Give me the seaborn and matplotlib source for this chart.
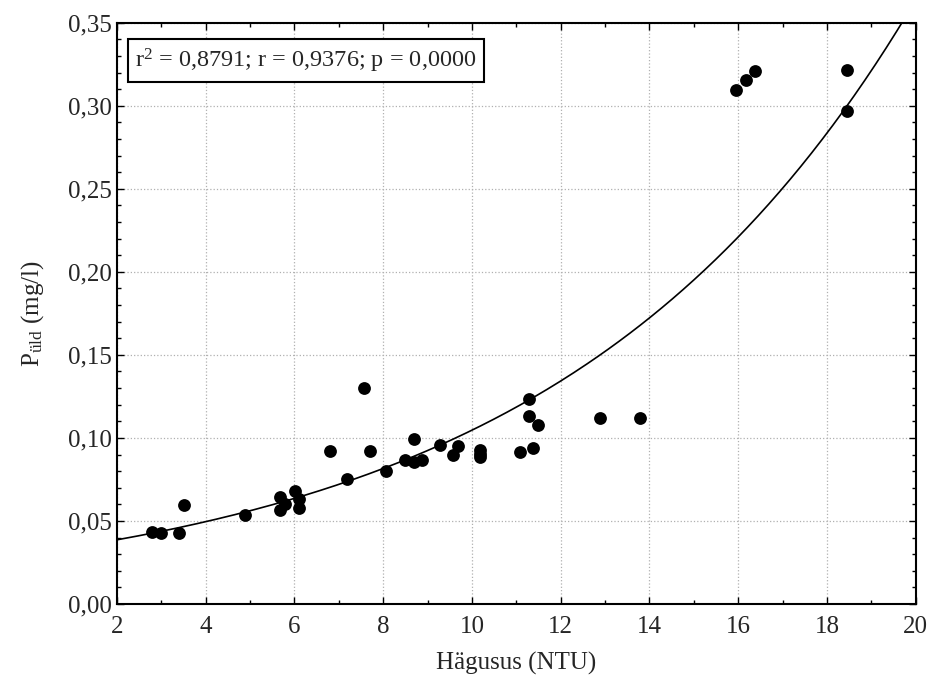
import numpy as np
import pandas as pd
import matplotlib.pyplot as plt
import seaborn as sns

# andmed (loetud jooniselt)
hagusus = [2.80, 2.99, 3.40, 3.51, 4.88, 5.68, 5.68, 5.78, 6.01, 6.11, 6.11,
           6.80, 7.18, 7.57, 7.70, 8.07, 8.49, 8.69, 8.69, 8.88, 9.27, 9.58,
           9.68, 10.19, 10.19, 10.19, 11.09, 11.28, 11.28, 11.38, 11.48,
           12.88, 13.79, 15.96, 16.18, 16.38, 18.46, 18.46]
p_uld = [0.0432, 0.0430, 0.0430, 0.0596, 0.0538, 0.0646, 0.0568, 0.0600,
         0.0680, 0.0633, 0.0580, 0.0924, 0.0751, 0.1300, 0.0924, 0.0803,
         0.0866, 0.0992, 0.0855, 0.0866, 0.0958, 0.0898, 0.0950, 0.0925,
         0.0905, 0.0885, 0.0916, 0.1233, 0.1130, 0.0942, 0.1078, 0.1120,
         0.1120, 0.3096, 0.3155, 0.3207, 0.3217, 0.2966]

# eksponentsiaalne mudel y = a*exp(b*x)
fit_a = 0.0301
fit_b = 0.1246

x_ticks = [2, 4, 6, 8, 10, 12, 14, 16, 18, 20]
y_ticks = [0.00, 0.05, 0.10, 0.15, 0.20, 0.25, 0.30, 0.35]

df = pd.DataFrame({'Hagusus': hagusus, 'P_uld': p_uld})

sns.set_style("ticks")
plt.rcParams['font.family'] = ['Liberation Serif', 'DejaVu Serif']
plt.rcParams['mathtext.fontset'] = 'custom'
plt.rcParams['mathtext.rm'] = 'Liberation Serif'
plt.rcParams['mathtext.it'] = 'Liberation Serif:italic'

fig = plt.figure(figsize=(9.43, 6.91), dpi=100)
ax = fig.add_axes([0.124, 0.126, 0.847, 0.841])

sns.scatterplot(data=df, x='Hagusus', y='P_uld', ax=ax, color='black',
                s=85, edgecolor='black', linewidth=0, zorder=3)

xs = np.linspace(2, 20, 300)
ax.plot(xs, fit_a * np.exp(fit_b * xs), color='black', lw=1.2, zorder=2)

ax.set_xlim(2, 20)
ax.set_ylim(0, 0.35)
ax.set_xticks(x_ticks)
ax.set_xticklabels([str(t) for t in x_ticks])
ax.set_yticks(y_ticks)
ax.set_yticklabels([f'{t:.2f}'.replace('.', ',') for t in y_ticks])
ax.set_xticks(np.arange(2, 21, 1), minor=True)
ax.set_yticks(np.arange(0, 0.351, 0.01), minor=True)

ax.tick_params(which='both', direction='in', top=True, right=True,
               labelsize=18, color='black')
ax.tick_params(which='major', length=5, width=1)
ax.tick_params(which='minor', length=3, width=1)
ax.tick_params(axis='x', pad=9)

ax.grid(True, which='major', linestyle=':', color='#b0b0b0', lw=0.9)
for sp in ax.spines.values():
    sp.set_linewidth(1.5)
    sp.set_color('black')

ax.set_xlabel('Hägusus (NTU)', fontsize=18, labelpad=10)
ax.set_ylabel('P$_{\\mathrm{üld}}$ (mg/l)', fontsize=18, labelpad=16)

ax.text(0.023, 0.935, 'r$^2$ = 0,8791; r = 0,9376; p = 0,0000',
        transform=ax.transAxes, fontsize=17.5, va='center', ha='left',
        bbox=dict(boxstyle='square,pad=0.3', facecolor='white',
                  edgecolor='black', linewidth=1.5), zorder=5)

fig.savefig('out.png', dpi=100)
